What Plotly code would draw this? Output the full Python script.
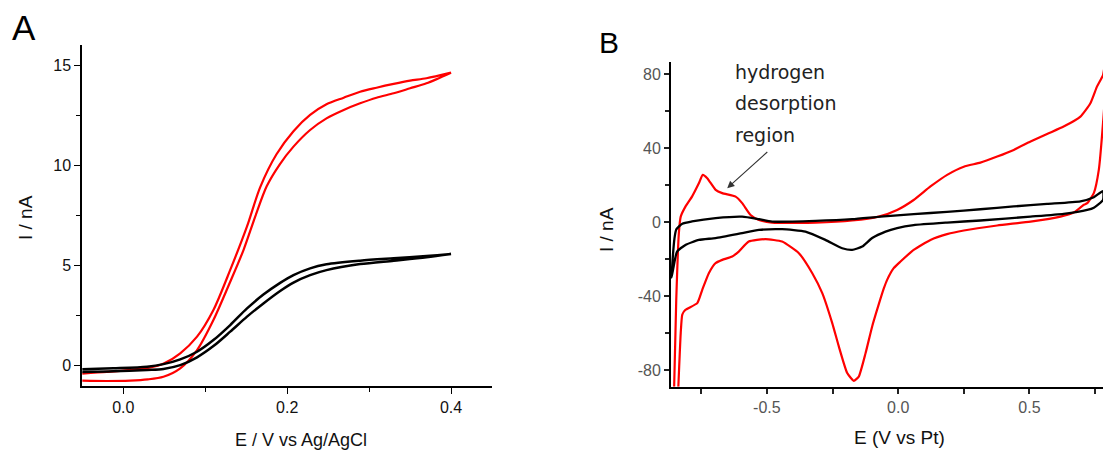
import plotly.graph_objects as go

W, H = 1103, 452

# ---------------- Panel A data ----------------
a_red_fwd_E = [-0.05, -0.02, 0.0085, 0.03, 0.049, 0.0695, 0.09, 0.11, 0.1305, 0.1467, 0.161, 0.175,
               0.191, 0.2077, 0.228, 0.248, 0.269, 0.289, 0.309, 0.33, 0.35, 0.37, 0.40]
a_red_fwd_I = [-0.74, -0.76, -0.74, -0.68, -0.55, -0.13, 0.78, 2.28, 4.19, 5.77, 7.44, 8.95,
               10.05, 10.93, 11.76, 12.34, 12.76, 13.09, 13.37, 13.59, 13.84, 14.09, 14.62]
a_red_rev_E = [0.40, 0.37, 0.35, 0.33, 0.309, 0.289, 0.269, 0.248, 0.228, 0.2077, 0.187, 0.167,
               0.151, 0.1305, 0.11, 0.09, 0.0695, 0.05, 0.042, 0.029, 0.0, -0.02, -0.05]
a_red_rev_I = [14.62, 14.34, 14.22, 14.06, 13.87, 13.67, 13.37, 13.04, 12.51, 11.7, 10.55, 8.9,
               6.95, 4.78, 2.78, 1.45, 0.62, 0.12, 0.0, -0.12, -0.24, -0.31, -0.39]

a_blk_fwd_E = [-0.05, -0.012, 0.029, 0.049, 0.0695, 0.09, 0.11, 0.1305, 0.151, 0.171, 0.191,
               0.2077, 0.228, 0.248, 0.289, 0.33, 0.37, 0.40]
a_blk_fwd_I = [-0.31, -0.28, -0.21, -0.16, 0.03, 0.42, 0.98, 1.70, 2.45, 3.11, 3.72,
               4.15, 4.52, 4.77, 5.07, 5.24, 5.41, 5.57]
a_blk_rev_E = [0.40, 0.37, 0.33, 0.289, 0.248, 0.228, 0.2077, 0.191, 0.171, 0.151, 0.1305,
               0.11, 0.09, 0.0695, 0.049, 0.029, -0.012, -0.05]
a_blk_rev_I = [5.57, 5.47, 5.36, 5.24, 5.06, 4.86, 4.52, 4.12, 3.55, 2.86, 2.03,
               1.28, 0.70, 0.32, 0.08, -0.05, -0.13, -0.18]

a_x_ticks = [0.0, 0.2, 0.4]
a_x_labels = ["0.0", "0.2", "0.4"]
a_y_ticks = [0, 5, 10, 15]
a_y_labels = ["0", "5", "10", "15"]

# ---------------- Panel B data ----------------
b_red_fwd_E = [-0.853, -0.845, -0.835, -0.828, -0.81, -0.785, -0.759, -0.744, -0.727, -0.695, -0.67,
               -0.619, -0.594, -0.562, -0.53, -0.48, -0.315, -0.175, -0.074, -0.004, 0.059, 0.123,
               0.1865, 0.25, 0.313, 0.377, 0.44, 0.504, 0.567, 0.63, 0.694, 0.732, 0.757, 0.78, 0.79]
b_red_fwd_I = [-89, -42, -5.8, 3, 8.4, 13.8, 21, 25.6, 23.8, 17.5, 15.7,
               13.8, 10.3, 3.9, 1.2, -0.2, -0.2, 0.9, 3, 6.6, 12, 19.3,
               25.6, 30, 32.2, 35.5, 39.1, 43.6, 47.7, 51.7, 57.1, 64.3, 73.3, 79.6, 88]
b_red_rev_E = [0.79, 0.78, 0.764, 0.745, 0.72, 0.707, 0.668, 0.618, 0.504, 0.377, 0.25, 0.186,
               0.123, 0.059, 0.009, -0.017, -0.042, -0.055, -0.074, -0.099, -0.124, -0.15, -0.169,
               -0.194, -0.226, -0.251, -0.289, -0.327, -0.378, -0.442, -0.505, -0.569, -0.607,
               -0.632, -0.67, -0.696, -0.721, -0.746, -0.765, -0.81, -0.822, -0.828, -0.837]
b_red_rev_I = [75, 53.5, 28.3, 15.7, 10.3, 9.4, 5.2, 3.0, 0.3, -1.8, -4.5, -6.5,
               -9.6, -15, -21.3, -24.9, -31.2, -36, -44.5, -56.4, -70.8, -83.5, -85.8,
               -81.6, -67.2, -54.6, -38.4, -27.6, -16.8, -10.5, -9.2, -10.5, -15.9,
               -18.6, -20.4, -22.2, -27.6, -36.6, -43.8, -47.4, -50, -60, -89]

b_blk_fwd_E = [-0.863, -0.858, -0.852, -0.845, -0.822, -0.785, -0.695, -0.594, -0.53, -0.48, -0.315,
               -0.175, -0.067, 0.059, 0.186, 0.313, 0.44, 0.567, 0.694, 0.745, 0.78]
b_blk_fwd_I = [-30, -18.6, -9, -4, -0.8, 0.4, 2.2, 3.0, 1.6, 0.3, 0.7,
               1.6, 3.0, 4.3, 5.6, 7.0, 8.5, 9.9, 11.3, 13.5, 16.8]
b_blk_rev_E = [0.78, 0.745, 0.72, 0.63, 0.504, 0.313, 0.186, 0.059, -0.004, -0.048, -0.099, -0.137,
               -0.175, -0.213, -0.277, -0.353, -0.442, -0.53, -0.594, -0.695, -0.759, -0.81,
               -0.842, -0.855, -0.863]
b_blk_rev_I = [12, 7.8, 6.6, 4.5, 3.0, 0.9, -0.2, -1.6, -3.2, -5.1, -8.6, -13.2,
               -15.0, -14.1, -9.6, -5.1, -3.8, -4.2, -5.9, -8.6, -9.6, -12.3,
               -15.9, -24, -30]

b_x_ticks = [-0.5, 0.0, 0.5]
b_x_labels = ["-0.5", "0.0", "0.5"]
b_y_ticks = [-80, -40, 0, 40, 80]
b_y_labels = ["-80", "-40", "0", "40", "80"]

annot_lines = ["hydrogen", "desorption", "region"]

RED = "#ff0000"
BLACK = "#000000"


def px(x):
    return x / W


def py(y):
    return 1 - y / H


fig = go.Figure()

# Panel A traces
fig.add_trace(go.Scatter(x=a_red_fwd_E + a_red_rev_E, y=a_red_fwd_I + a_red_rev_I, mode="lines",
                         line=dict(color=RED, width=2.2, shape="spline", smoothing=0.8),
                         xaxis="x", yaxis="y", showlegend=False))
fig.add_trace(go.Scatter(x=a_blk_fwd_E + a_blk_rev_E, y=a_blk_fwd_I + a_blk_rev_I, mode="lines",
                         line=dict(color=BLACK, width=2.5, shape="spline", smoothing=0.8),
                         xaxis="x", yaxis="y", showlegend=False))

# Panel B traces
fig.add_trace(go.Scatter(x=b_red_fwd_E + b_red_rev_E, y=b_red_fwd_I + b_red_rev_I, mode="lines",
                         line=dict(color=RED, width=2.2, shape="spline", smoothing=0.5),
                         xaxis="x2", yaxis="y2", showlegend=False))
fig.add_trace(go.Scatter(x=b_blk_fwd_E + b_blk_rev_E, y=b_blk_fwd_I + b_blk_rev_I, mode="lines",
                         line=dict(color=BLACK, width=2.3, shape="spline", smoothing=0.5),
                         xaxis="x2", yaxis="y2", showlegend=False))

font_a = dict(family="Liberation Sans, Arial", size=16, color="#111111")
font_b = dict(family="Liberation Sans, Arial", size=16, color="#555555")

fig.update_layout(
    width=W, height=H,
    margin=dict(l=0, r=0, t=0, b=0),
    paper_bgcolor="white", plot_bgcolor="white",
    xaxis=dict(domain=[px(82), px(492)], range=[-0.0504, 0.45], anchor="y",
               showline=True, linecolor="black", linewidth=1.5, mirror=False,
               showgrid=False, zeroline=False, ticks="outside", ticklen=6, tickwidth=1.2,
               tickcolor="black", tickvals=a_x_ticks, ticktext=a_x_labels, tickfont=font_a,
               minor=dict(dtick=0.1, tick0=0, ticks="outside", ticklen=4, tickcolor="black",
                          tickwidth=1.2, showgrid=False)),
    yaxis=dict(domain=[py(386), py(45)], range=[-1.01, 16.0], anchor="x",
               showline=True, linecolor="black", linewidth=1.5,
               showgrid=False, zeroline=False, ticks="outside", ticklen=6, tickwidth=1.2,
               tickcolor="black", tickvals=a_y_ticks, ticktext=a_y_labels, tickfont=font_a,
               minor=dict(dtick=2.5, tick0=0, ticks="outside", ticklen=4, tickcolor="black",
                          tickwidth=1.2, showgrid=False)),
    xaxis2=dict(domain=[px(671), 1.0], range=[-0.865, 0.78], anchor="y2",
                showline=True, linecolor="black", linewidth=2,
                showgrid=False, zeroline=False, ticks="outside", ticklen=5, tickwidth=1.5,
                tickcolor="#222222", tickvals=b_x_ticks, ticktext=b_x_labels, tickfont=font_b,
                minor=dict(dtick=0.25, tick0=0, ticks="outside", ticklen=5, tickcolor="#222222",
                           tickwidth=1.5, showgrid=False)),
    yaxis2=dict(domain=[py(386.7), py(61.7)], range=[-89, 86.8], anchor="x2",
                showline=True, linecolor="black", linewidth=2,
                showgrid=False, zeroline=False, ticks="outside", ticklen=5, tickwidth=1.5,
                tickcolor="#222222", tickvals=b_y_ticks, ticktext=b_y_labels, tickfont=font_b,
                minor=dict(dtick=20, tick0=0, ticks="outside", ticklen=4, tickcolor="#222222",
                           tickwidth=1.5, showgrid=False)),
)

ann = []
# Panel letters
ann.append(dict(text="A", x=px(23.5), y=py(27), xref="paper", yref="paper", showarrow=False,
                xanchor="center", yanchor="middle",
                font=dict(family="Liberation Sans, Arial", size=35, color="black")))
ann.append(dict(text="B", x=px(609), y=py(42), xref="paper", yref="paper", showarrow=False,
                xanchor="center", yanchor="middle",
                font=dict(family="Liberation Sans, Arial", size=30, color="black")))
# Axis titles
ann.append(dict(text="E / V vs Ag/AgCl", x=px(301), y=py(440), xref="paper", yref="paper",
                showarrow=False, xanchor="center", yanchor="middle",
                font=dict(family="Liberation Sans, Arial", size=18, color="#111111")))
ann.append(dict(text="I / nA", x=px(25), y=py(218), xref="paper", yref="paper", textangle=-90,
                showarrow=False, xanchor="center", yanchor="middle",
                font=dict(family="Liberation Sans, Arial", size=19, color="#111111")))
ann.append(dict(text="E (V vs Pt)", x=px(899), y=py(437.5), xref="paper", yref="paper",
                showarrow=False, xanchor="center", yanchor="middle",
                font=dict(family="Liberation Sans, Arial", size=19, color="#111111")))
ann.append(dict(text="I / nA", x=px(606), y=py(230), xref="paper", yref="paper", textangle=-90,
                showarrow=False, xanchor="center", yanchor="middle",
                font=dict(family="Liberation Sans, Arial", size=19, color="#111111")))
# hydrogen desorption region label
for i, line in enumerate(annot_lines):
    ann.append(dict(text=line, x=px(733), y=py(71.7 + 31.7 * i), xref="paper", yref="paper",
                    showarrow=False, xanchor="left", yanchor="middle",
                    font=dict(family="DejaVu Sans", size=19, color="#222222")))
# arrow
ann.append(dict(text="", x=-0.651, y=18.4, xref="x2", yref="y2", ax=-0.4926, ay=38.7,
                axref="x2", ayref="y2", showarrow=True, arrowhead=2, arrowsize=1.3,
                arrowwidth=1.1, arrowcolor="#333333"))

fig.update_layout(annotations=ann)

fig.write_html("out.html")
